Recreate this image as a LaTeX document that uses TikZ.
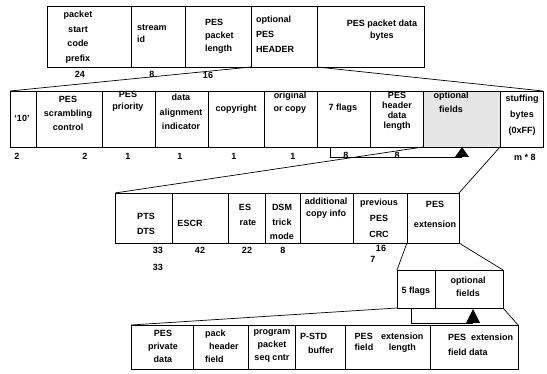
\documentclass[tikz,border=0pt]{standalone}
\usepackage{fontspec}
\setmainfont{Liberation Sans}
\newcommand\bx[5]{\node[box, anchor=north west, minimum width={#4-#2}, minimum height={#5-#3}] (#1) at (#2,#3) {};}
\begin{document}
\begin{tikzpicture}[x=1pt,y=-1pt,
  box/.style={draw, line width=0.7pt, inner sep=0pt, outer sep=0pt},
  conn/.style={line width=0.7pt},
  shade/.style={fill=black!10},
  txt/.style={font=\bfseries\fontsize{9}{#1}\selectfont, inner sep=0pt, align=center},
  txt/.default=11,
  ltxt/.style={font=\bfseries\fontsize{9}{#1}\selectfont, inner sep=0pt, align=left, anchor=west},
  ltxt/.default=11,
  num/.style={font=\bfseries\fontsize{9}{11}\selectfont, inner sep=0pt}]
\useasboundingbox (0,0) rectangle (547,374);

% ---------- Row 1 ----------
\bx{r1a}{47}{6}{131}{67}
\bx{r1b}{131}{6}{185}{67}
\bx{r1c}{185}{6}{251}{67}
\bx{r1d}{251}{6}{317}{67}
\bx{r1e}{317}{6}{424}{67}
\node[txt=14.5] (t1a) at (78,37) {packet\\start\\code\\prefix};
\node[ltxt=12] (t1b) at (137,34) {stream\\id};
\node[ltxt=13] (t1c) at (205,36) {PES\\packet\\length};
\node[ltxt=15] (t1d) at (256,34) {optional\\PES\\HEADER};
\node[txt=12] (t1e) at (382,30) {PES packet data\\bytes};
\node[num] (n1a) at (80,74) {24};
\node[num] (n1b) at (152,74) {8};
\node[num] (n1c) at (208,75) {16};

% ---------- Row 2 ----------
\bx{r2a}{10}{91}{36}{147}
\bx{r2b}{36}{91}{102}{147}
\bx{r2c}{102}{91}{155}{147}
\bx{r2d}{155}{91}{208}{147}
\bx{r2e}{208}{91}{264}{147}
\bx{r2f}{264}{91}{317}{147}
\bx{r2g}{317}{91}{370}{147}
\bx{r2h}{370}{91}{423}{147}
\node[box, shade, anchor=north west, minimum width=77, minimum height=56] (r2i) at (423,91) {};
\bx{r2j}{500}{91}{543}{147}
\node[txt] (t2a) at (22,118) {`10'};
\node[txt=14] (t2b) at (68,113) {PES\\scrambling\\control};
\node[txt=12] (t2c) at (128,101.5) {PES\\priority};
\node[txt=14.5] (t2d) at (181,112) {data\\alignment\\indicator};
\node[txt] (t2e) at (236,109) {copyright};
\node[txt=13] (t2f) at (290,103) {original\\or copy};
\node[txt] (t2g) at (343,108) {7 flags};
\node[txt=10] (t2h) at (397,111) {PES\\header\\data\\length};
\node[txt=14] (t2i) at (451,102) {optional\\fields};
\node[txt=16] (t2j) at (522,115) {stuffing\\bytes\\(0xFF)};
\node[num] (n2a) at (17,156) {2};
\node[num] (n2b) at (85,156) {2};
\node[num] (n2c) at (128,156) {1};
\node[num] (n2d) at (180,156) {1};
\node[num] (n2e) at (234,156) {1};
\node[num] (n2f) at (293,156) {1};
\node[num] (n2g) at (346,155) {8};
\node[num] (n2h) at (397,155) {8};
\node[num] (n2j) at (525,157) {m * 8};
% bracket
\coordinate (b1top) at (330,147);
\coordinate (b1end) at (462,157);
\coordinate (apex1) at (462,147);
\draw[conn] (b1top) |- (b1end);
\fill (apex1) -- ++(-7,10) -- ++(14,0) -- cycle;

% ---------- Row 3 ----------
\bx{r3a}{115}{193}{172}{243}
\bx{r3b}{172}{193}{228}{243}
\bx{r3c}{228}{193}{265}{243}
\bx{r3d}{265}{193}{300}{243}
\bx{r3e}{300}{193}{353}{243}
\bx{r3f}{353}{193}{407}{243}
\bx{r3g}{407}{193}{459}{243}
\node[txt=15] (t3a) at (146,224) {PTS\\DTS};
\node[txt] (t3b) at (190,223) {ESCR};
\node[txt=15] (t3c) at (245,215) {ES\\\hspace*{6pt}rate};
\node[txt=14.5] (t3d) at (282,222) {DSM\\trick\\mode};
\node[txt=12] (t3e) at (326,208) {additional\\copy info};
\node[txt=16] (t3f) at (379,218) {previous\\PES\\CRC};
\node[txt=20] (t3g) at (435,214) {PES\\extension};
\node[num] (n3a) at (158,250) {33};
\node[num] (n3a2) at (158,267) {33};
\node[num] (n3b) at (200,250) {42};
\node[num] (n3c) at (247,250) {22};
\node[num] (n3d) at (283,250) {8};
\node[num] (n3f) at (381,248) {16};
\node[num] (n3f2) at (373,259) {7};

% ---------- Row 4 ----------
\bx{r4a}{397}{270}{435}{308}
\bx{r4b}{435}{270}{503}{308}
\node[txt] (t4a) at (416,291) {5 flags};
\node[txt=13] (t4b) at (468,287) {optional\\fields};
\coordinate (b2top) at (411,308);
\coordinate (b2end) at (473,323);
\coordinate (apex2) at (473,309);
\draw[conn] (b2top) |- (b2end);
\fill (apex2) -- ++(-7,14) -- ++(14,0) -- cycle;

% ---------- Row 5 ----------
\bx{r5a}{131}{325}{193}{369}
\bx{r5b}{193}{325}{248}{369}
\bx{r5c}{248}{325}{295}{369}
\bx{r5d}{295}{325}{345}{369}
\bx{r5e}{345}{325}{430}{369}
\bx{r5f}{430}{325}{518}{369}
\node[txt=13] (t5a) at (163,346) {PES\\private\\data};
\node[ltxt=13] (t5b) at (205,346) {pack\\\hspace*{4pt}header\\field};
\node[txt=13] (t5c) at (272,346) {program\\packet\\seq cntr};
\node[ltxt=14] (t5d) at (300,343) {P-STD\\\hspace*{8pt}buffer};
\node[font=\bfseries\fontsize{9}{11}\selectfont, inner sep=0pt] (t5e) at (389,343)
  {\begin{tabular}{@{}l@{\hspace{8pt}}c@{}}PES & extension\\ field & length\end{tabular}};
\node[ltxt=15] (t5f) at (448,345) {PES\ \ extension\\field data};

% ---------- expansion connectors ----------
\draw[conn] (r1d.south west) -- (r2a.north west);
\draw[conn] (r1d.south east) -- (r2j.north east);
\draw[conn] (r2i.south west) -- (r3a.north west);
\draw[conn] (r2i.south east) -- (r3g.north east);
\draw[conn] (r3g.south west) -- (r4a.north west);
\draw[conn] (r3g.south east) -- (r4b.north east);
\draw[conn] (r4a.south west) -- (r5a.north west);
\draw[conn] (r4b.south east) -- (r5f.north east);
\end{tikzpicture}
\end{document}
